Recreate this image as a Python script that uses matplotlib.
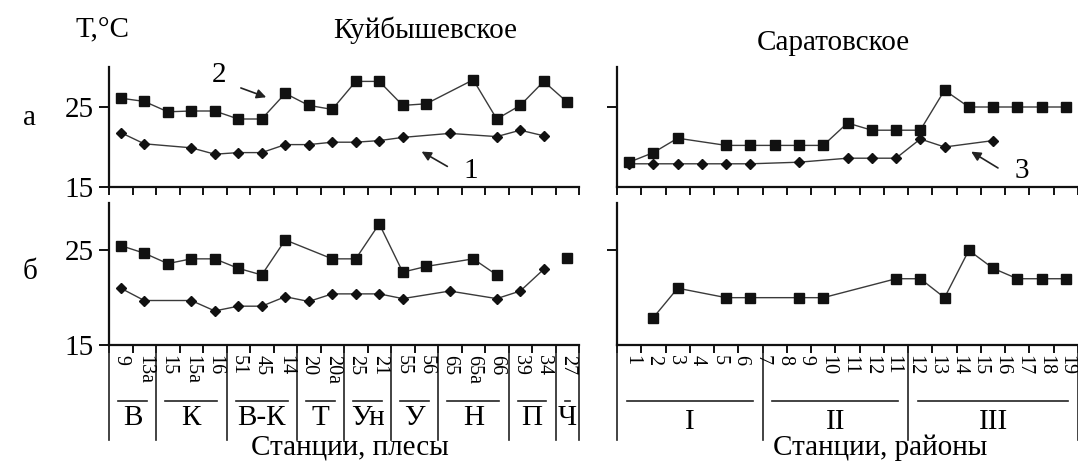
import numpy as np
import matplotlib
matplotlib.use("Agg")
import matplotlib.pyplot as plt
from matplotlib.transforms import blended_transform_factory

plt.rcParams['font.family'] = ['Liberation Serif', 'DejaVu Serif']

nan = np.nan

# Куйбышевское: станции и плесы
kuib_stations = ['9', '13а', '15', '15а', '16', '51', '45', '14', '20', '20а',
                 '25', '21', '55', '56', '65', '65а', '66', '39', '34', '27']
kuib_groups = ['В', 'К', 'В-К', 'Т', 'Ун', 'У', 'Н', 'П', 'Ч']
kuib_group_sizes = [2, 3, 3, 2, 2, 2, 3, 2, 1]

# а) curve 2 (squares) and curve 1 (diamonds)
kuib_a_sq = [26.1, 25.7, 24.4, 24.5, 24.5, 23.5, 23.5, 26.7, 25.2, 24.7,
             28.2, 28.2, 25.2, 25.4, nan, 28.4, 23.5, 25.2, 28.2, 25.6]
kuib_a_dm = [21.8, 20.4, nan, 19.9, 19.1, 19.3, 19.3, 20.3, 20.3, 20.6,
             20.6, 20.8, 21.2, nan, 21.7, nan, 21.3, 22.1, 21.4, nan]
# б)
kuib_b_sq = [25.5, 24.7, 23.6, 24.1, 24.1, 23.1, 22.4, 26.1, nan, 24.1,
             24.1, 27.8, 22.7, 23.3, nan, 24.1, 22.4, nan, nan, 24.2]
kuib_b_dm = [21.0, 19.7, nan, 19.7, 18.6, 19.1, 19.1, 20.1, 19.6, 20.4,
             20.4, 20.4, 19.9, nan, 20.7, nan, 19.9, 20.7, 23.0, nan]
kuib_b_sq_breaks = [19]

# Саратовское: станции и районы
sar_labels = ['1', '2', '3', '4', '5', '6', '7', '8', '9', '10', '11',
              '12', '11', '12', '13', '14', '15', '16', '17', '18', '19']
sar_groups = ['I', 'II', 'III']
sar_group_sizes = [6, 6, 7]

sar_a_sq = [18.1, 19.3, 21.1, nan, 20.2, 20.2, 20.2, 20.2, 20.2, 23.0,
            22.1, 22.1, 22.1, 27.1, 25.0, 25.0, 25.0, 25.0, 25.0]
sar_a_dm = [17.9, 17.9, 17.9, 17.9, 17.9, 17.9, nan, 18.1, nan, 18.6,
            18.6, 18.6, 21.0, 20.0, nan, 20.8, nan, nan, nan]
sar_b_sq = [nan, 17.9, 21.0, nan, 20.0, 20.0, nan, 20.0, 20.0, nan,
            nan, 22.0, 22.0, 20.0, 25.0, 23.1, 22.0, 22.0, 22.0]

W, H = 1078, 463
fig = plt.figure(figsize=(W / 100, H / 100), dpi=100)


def px_axes(x0, y0, x1, y1):
    return fig.add_axes([x0 / W, 1 - y1 / H, (x1 - x0) / W, (y1 - y0) / H])


def draw(ax, y, marker, ms, breaks=()):
    y = np.array(y, dtype=float)
    x = np.arange(len(y))
    cuts = [0] + list(breaks) + [len(y)]
    for a, b in zip(cuts[:-1], cuts[1:]):
        xs, ys = x[a:b], y[a:b]
        ok = ~np.isnan(ys)
        ax.plot(xs[ok], ys[ok], color='#3a3a3a', lw=1.0, zorder=2)
        ax.plot(xs[ok], ys[ok], ls='none', marker=marker, ms=ms,
                color='#111111', zorder=3)


def style(ax, n, xmax, ylabels):
    for s in ['top', 'right']:
        ax.spines[s].set_visible(False)
    for s in ['left', 'bottom']:
        ax.spines[s].set_linewidth(1.6)
        ax.spines[s].set_color('#111111')
    ax.set_xlim(-0.5, xmax)
    ax.set_ylim(15, 30)
    ax.set_xticks(np.arange(n + 1) - 0.5, minor=True)
    ax.set_xticks([])
    ax.tick_params(axis='x', which='minor', direction='out', length=6,
                   width=1.4, color='#111111')
    if ylabels:
        ax.set_yticks([15, 25])
        ax.set_yticklabels(['15', '25'], fontsize=21)
    else:
        ax.set_yticks([25])
        ax.set_yticklabels([])
    ax.tick_params(axis='y', direction='out', length=7, width=1.4,
                   color='#111111', pad=4)


ax_ka = px_axes(109, 67, 579, 187)
ax_kb = px_axes(109, 203, 579, 345)
ax_sa = px_axes(617, 67, 1078, 187)
ax_sb = px_axes(617, 203, 1078, 345)

nk = len(kuib_stations)
ns = len(sar_a_sq)
for ax in (ax_ka, ax_kb):
    style(ax, nk, nk - 0.5, True)
for ax in (ax_sa, ax_sb):
    style(ax, ns, ns - 0.6, False)

draw(ax_ka, kuib_a_sq, 's', 6.5)
draw(ax_ka, kuib_a_dm, 'D', 5)
draw(ax_kb, kuib_b_sq, 's', 6.5, kuib_b_sq_breaks)
draw(ax_kb, kuib_b_dm, 'D', 5)
draw(ax_sa, sar_a_sq, 's', 6.5)
draw(ax_sa, sar_a_dm, 'D', 5)
draw(ax_sb, sar_b_sq, 's', 6.5)


def below(ax, xs_lab, labs, sizes, groups, group_y):
    tr = blended_transform_factory(ax.transData, ax.transAxes)
    for x, t in zip(xs_lab, labs):
        ax.text(x, -0.07, t, transform=tr, rotation=270, ha='center',
                va='top', fontsize=14.5)
    edges = np.concatenate([[0], np.cumsum(sizes)]) - 0.5
    for e in edges:
        ax.plot([e, e], [0, -0.67], transform=tr, color='#222222', lw=1.2,
                clip_on=False)
    for a, b, g in zip(edges[:-1], edges[1:], groups):
        right = min(b - 0.4, ax.get_xlim()[1])
        ax.plot([a + 0.4, right], [-0.395, -0.395], transform=tr,
                color='#222222', lw=1.2, clip_on=False)
        ax.text((a + min(b, ax.get_xlim()[1] + 0.3)) / 2, group_y, g,
                transform=tr, ha='center', va='center', fontsize=21)


below(ax_kb, np.arange(nk), kuib_stations, kuib_group_sizes, kuib_groups, -0.515)
below(ax_sb, np.linspace(0.12, 18.05, len(sar_labels)), sar_labels,
      sar_group_sizes, sar_groups, -0.545)

# arrows with curve numbers
arr = dict(arrowstyle='-|>', color='#222222', lw=1.2, mutation_scale=14)
ax_ka.annotate('', xy=(6.3, 26.1), xytext=(5.0, 27.5), arrowprops=arr)
ax_ka.text(4.2, 29.0, '2', fontsize=21, ha='center', va='center')
ax_ka.annotate('', xy=(12.7, 19.6), xytext=(14.0, 17.4), arrowprops=arr)
ax_ka.text(14.9, 17.0, '1', fontsize=21, ha='center', va='center')
ax_sa.annotate('', xy=(14.0, 19.6), xytext=(15.3, 17.2), arrowprops=arr)
ax_sa.text(16.2, 17.0, '3', fontsize=21, ha='center', va='center')

fig.text(103 / W, 1 - 30 / H, 'T,°C', fontsize=21, ha='center', va='center')
fig.text(425 / W, 1 - 30 / H, 'Куйбышевское', fontsize=21, ha='center', va='center')
fig.text(833 / W, 1 - 43 / H, 'Саратовское', fontsize=21, ha='center', va='center')
fig.text(30 / W, 1 - 118 / H, 'а', fontsize=21, ha='center', va='center')
fig.text(30 / W, 1 - 272 / H, 'б', fontsize=21, ha='center', va='center')
fig.text(350 / W, 1 - 447 / H, 'Станции, плесы', fontsize=21, ha='center', va='center')
fig.text(880 / W, 1 - 448 / H, 'Станции, районы', fontsize=21, ha='center', va='center')

fig.savefig('out.png', dpi=100)
